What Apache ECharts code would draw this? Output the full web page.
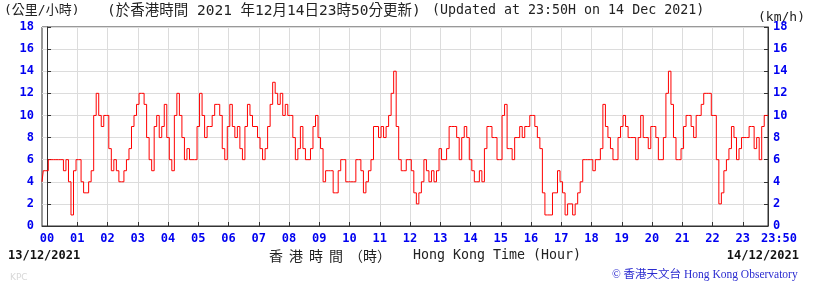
<!DOCTYPE html>
<html>
<head>
<meta charset="utf-8">
<script src="https://cdn.jsdelivr.net/npm/echarts@6/dist/echarts.min.js"></script>
<style>html,body{margin:0;padding:0;background:#fff}#c{width:813px;height:289px}</style>
</head>
<body>
<div id="c"></div>
<script>
// Sampling: every 5 minutes, from 23:50 on 13/12 (-10 min) to 23:50 on 14/12 (1430 min)
const startMinute = -10;
const stepMinutes = 5;
// Wind speed (km/h), one row per hour
const windSpeed = [
  4,5,                                   // 23:50-23:55
  5,6,6,6,6,6,6,5,6,4,1,5,               // 00
  6,6,4,3,3,4,5,10,12,10,9,10,           // 01
  10,7,5,6,5,4,4,5,6,7,9,10,             // 02
  11,12,12,11,8,6,5,9,10,8,9,11,         // 03
  8,6,5,10,12,10,8,6,7,6,6,6,            // 04
  9,12,10,8,9,9,10,11,11,10,7,6,         // 05
  9,11,9,8,9,7,6,9,11,10,9,9,            // 06
  8,7,6,7,9,11,13,12,11,12,10,11,        // 07
  10,10,8,6,7,9,7,6,6,7,9,10,            // 08
  8,7,4,5,5,5,3,3,5,6,6,4,               // 09
  4,4,4,6,6,5,3,4,5,6,9,9,               // 10
  8,9,8,9,10,12,14,9,6,5,5,6,            // 11
  6,5,3,2,3,4,6,5,4,5,4,5,               // 12
  7,6,6,7,9,9,9,8,6,8,9,8,               // 13
  6,5,4,4,5,4,7,9,9,8,8,6,               // 14
  6,10,11,7,7,6,8,8,9,8,9,9,             // 15
  10,10,9,8,7,3,1,1,1,3,3,5,             // 16
  4,3,1,2,2,1,2,3,4,6,6,6,               // 17
  6,5,6,6,7,11,9,8,7,6,6,8,              // 18
  9,10,9,8,8,8,6,8,10,8,8,7,             // 19
  9,9,8,6,6,8,12,14,11,8,6,6,            // 20
  7,9,10,10,9,8,10,10,11,12,12,12,       // 21
  10,10,6,2,3,5,6,7,9,8,6,7,             // 22
  8,8,8,9,9,7,8,6,9,10,10                // 23
];
const hourTicks = [0,60,120,180,240,300,360,420,480,540,600,660,720,780,840,900,960,1020,1080,1140,1200,1260,1320,1380];
const hourLabels = ['00','01','02','03','04','05','06','07','08','09','10','11','12','13','14','15','16','17','18','19','20','21','22','23'];
const endMinute = 1430;
const endLabel = '23:50';

const seriesData = windSpeed.map((v, i) => [startMinute + i * stepMinutes, v]);
const labelValues = hourTicks.concat([endMinute]);

const mono = '"DejaVu Sans Mono", "Noto Sans CJK TC", monospace';
const blue = '#0000f0';

const chart = echarts.init(document.getElementById('c'), null, {renderer: 'canvas'});
chart.setOption({
  animation: false,
  backgroundColor: '#fff',
  grid: {left: 42, right: 45, top: 27, bottom: 63, show: true, borderColor: '#333', borderWidth: 1, containLabel: false, outerBoundsMode: 'none'},
  xAxis: {
    type: 'value', min: startMinute, max: endMinute,
    axisLine: {show: true, lineStyle: {color: '#333', width: 1}},
    axisTick: {show: true, inside: true, length: 4, customValues: hourTicks, lineStyle: {color: '#333'}},
    splitLine: {show: true, lineStyle: {color: '#dcdcdc', width: 1}},
    axisLabel: {
      customValues: labelValues, hideOverlap: false, margin: 7,
      color: blue, fontFamily: mono, fontWeight: 'bold', fontSize: 12,
      formatter: function (v) {
        if (v === endMinute) return '{end|' + endLabel + '}';
        const i = hourTicks.indexOf(v);
        return i >= 0 ? hourLabels[i] : '';
      },
      rich: {end: {color: blue, fontFamily: mono, fontWeight: 'bold', fontSize: 12, padding: [0, 0, 0, 22]}}
    }
  },
  yAxis: [
    {type: 'value', min: 0, max: 18, interval: 2, position: 'left',
      axisLine: {show: true, lineStyle: {color: '#333'}},
      axisTick: {show: true, inside: true, length: 4, lineStyle: {color: '#333'}},
      splitLine: {show: true, lineStyle: {color: '#dcdcdc', width: 1}},
      axisLabel: {margin: 8, color: blue, fontFamily: mono, fontWeight: 'bold', fontSize: 12}},
    {type: 'value', min: 0, max: 18, interval: 2, position: 'right',
      axisLine: {show: true, lineStyle: {color: '#333'}},
      axisTick: {show: true, inside: true, length: 4, lineStyle: {color: '#333'}},
      splitLine: {show: false},
      axisLabel: {margin: 5, color: blue, fontFamily: mono, fontWeight: 'bold', fontSize: 12}}
  ],
  series: [{
    type: 'line', data: seriesData, step: 'middle', showSymbol: false, symbol: 'none',
    lineStyle: {color: '#ff0000', width: 1}, xAxisIndex: 0, yAxisIndex: 0, silent: true
  }],
  graphic: [
    {type: 'text', x: 4, y: 11, style: {text: '(公里/小時)', font: '13px ' + mono, fill: '#222', textVerticalAlign: 'middle'}},
    {type: 'text', x: 107, y: 11, style: {text: '(於香港時間 2021 年12月14日23時50分更新)', font: '14.5px ' + mono, fill: '#222', textVerticalAlign: 'middle'}},
    {type: 'text', x: 432, y: 11, style: {text: '(Updated at 23:50H on 14 Dec 2021)', font: '13.3px ' + mono, fill: '#222', textVerticalAlign: 'middle'}},
    {type: 'text', x: 758, y: 18, style: {text: '(km/h)', font: '13px ' + mono, fill: '#222', textVerticalAlign: 'middle'}},
    {type: 'text', x: 8, y: 256, style: {text: '13/12/2021', font: 'bold 12px ' + mono, fill: '#111', textVerticalAlign: 'middle'}},
    {type: 'text', x: 269, y: 256, style: {text: '香', font: '14px "Noto Sans CJK TC"', fill: '#222', textVerticalAlign: 'middle'}},
    {type: 'text', x: 289, y: 256, style: {text: '港', font: '14px "Noto Sans CJK TC"', fill: '#222', textVerticalAlign: 'middle'}},
    {type: 'text', x: 309, y: 256, style: {text: '時', font: '14px "Noto Sans CJK TC"', fill: '#222', textVerticalAlign: 'middle'}},
    {type: 'text', x: 329, y: 256, style: {text: '間', font: '14px "Noto Sans CJK TC"', fill: '#222', textVerticalAlign: 'middle'}},
    {type: 'text', x: 349, y: 256, style: {text: '（時）', font: '14px "Noto Sans CJK TC"', fill: '#222', textVerticalAlign: 'middle'}},
    {type: 'text', x: 413, y: 256, style: {text: 'Hong Kong Time (Hour)', font: '13.3px ' + mono, fill: '#222', textVerticalAlign: 'middle'}},
    {type: 'text', x: 799, y: 256, style: {text: '14/12/2021', font: 'bold 12px ' + mono, fill: '#111', textAlign: 'right', textVerticalAlign: 'middle'}},
    {type: 'text', x: 612, y: 275, style: {text: '© 香港天文台 Hong Kong Observatory', font: '11.5px "Liberation Serif", "Noto Sans CJK TC", serif', fill: '#2b2bd0', textVerticalAlign: 'middle'}},
    {type: 'text', x: 10, y: 278, style: {text: 'KPC', font: '9px "DejaVu Sans"', fill: '#d8d8d8', textVerticalAlign: 'middle'}}
  ]
});
</script>
</body>
</html>
